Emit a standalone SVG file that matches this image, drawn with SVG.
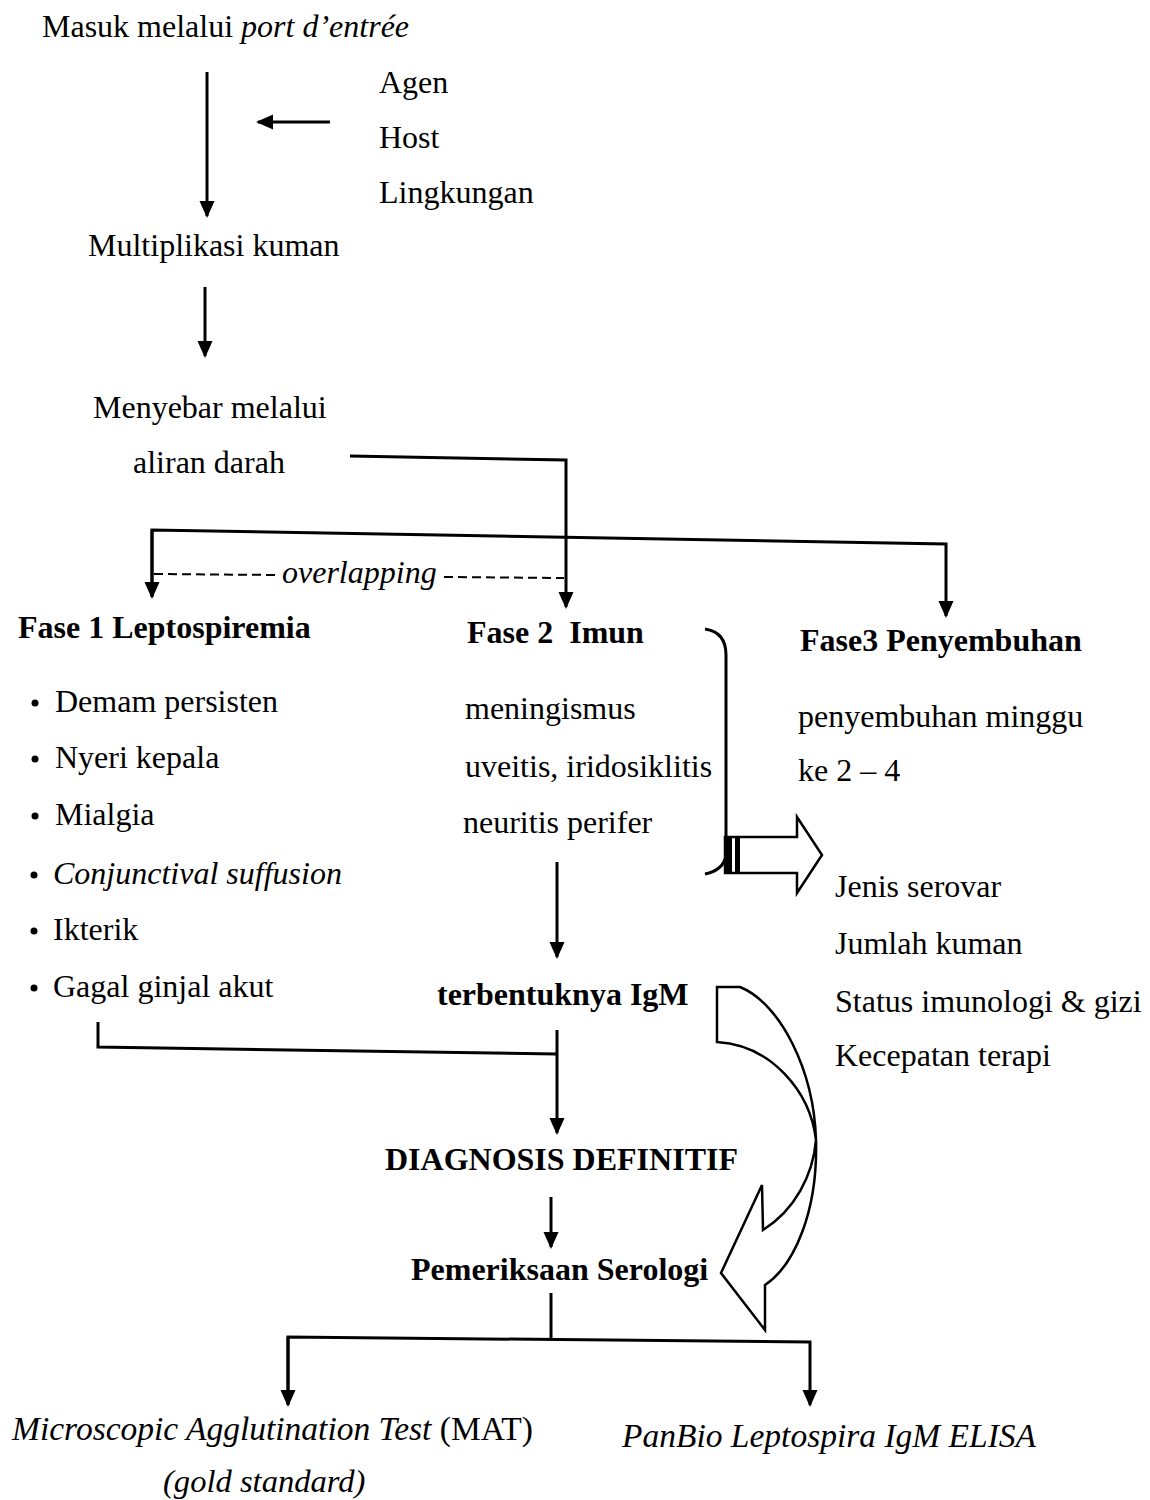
<svg xmlns="http://www.w3.org/2000/svg" width="1150" height="1500" viewBox="0 0 1150 1500">
<style>
text{font-family:"Liberation Serif","Times New Roman",serif;font-size:32px;fill:#000}
.b{font-weight:bold}
.i{font-style:italic}
.big{font-size:33.5px}
.ln{fill:none;stroke:#000;stroke-width:3}
.hol{fill:#fff;stroke:#000;stroke-width:2.5;stroke-linejoin:miter}
</style>
<defs>
<marker id="ah" markerUnits="userSpaceOnUse" markerWidth="18" markerHeight="18" refX="15" refY="7.5" orient="auto">
<path d="M0,0 L17,7.5 L0,15 Z" fill="#000"/>
</marker>
</defs>
<rect width="1150" height="1500" fill="#fff"/>

<g id="connectors">
<line class="ln" x1="207" y1="72" x2="207" y2="216" marker-end="url(#ah)"/>
<line class="ln" x1="330" y1="122" x2="258" y2="122" marker-end="url(#ah)"/>
<line class="ln" x1="205" y1="287" x2="205" y2="356" marker-end="url(#ah)"/>
<polyline class="ln" points="350,456 566,460 566,607" marker-end="url(#ah)"/>
<polyline class="ln" points="152,596 152,530 946,544 946,616" marker-end="url(#ah)"/>
<line x1="152" y1="530" x2="152" y2="597" class="ln" marker-end="url(#ah)"/>
<line x1="154" y1="574" x2="279" y2="575" stroke="#000" stroke-width="2" stroke-dasharray="9,5"/>
<line x1="444" y1="577" x2="564" y2="578" stroke="#000" stroke-width="2" stroke-dasharray="9,5"/>
<path class="ln" d="M705,629 Q726,632 726,655 L726,855 Q724,870 705,874"/>
<line class="ln" x1="557" y1="862" x2="557" y2="957" marker-end="url(#ah)"/>
<polyline class="ln" points="98,1022 98,1047 557,1054"/>
<line class="ln" x1="557" y1="1030" x2="557" y2="1133" marker-end="url(#ah)"/>
<line class="ln" x1="551" y1="1197" x2="551" y2="1247" marker-end="url(#ah)"/>
<line class="ln" x1="551" y1="1293" x2="551" y2="1338"/>
<polyline class="ln" points="288,1404 288,1337 810,1342 810,1405" marker-end="url(#ah)"/>
<line class="ln" x1="288" y1="1337" x2="288" y2="1405" marker-end="url(#ah)"/>
</g>

<g id="hollow-arrow-right">
<path class="hol" d="M725,837 L797,837 L797,817 L822,855 L797,893 L797,873 L725,873 Z"/>
<rect x="724" y="837" width="8" height="36" fill="#000"/>
<rect x="735" y="837" width="5" height="36" fill="#000"/>
</g>

<g id="curved-arrow">
<path class="hol" d="M717,987 L740,987 C780,1003 814,1070 816,1140 C818,1210 795,1265 765,1285 L765,1330 L721,1273 L762,1185 L763,1230 C795,1210 813,1175 816,1140 C810,1090 770,1045 717,1042 Z"/>
</g>

<g id="n-masuk"><text x="42" y="37">Masuk melalui <tspan class="i">port d’entrée</tspan></text></g>
<g id="n-factors">
<text x="379" y="93">Agen</text>
<text x="379" y="148">Host</text>
<text x="379" y="203">Lingkungan</text>
</g>
<g id="n-multi"><text x="88" y="256">Multiplikasi kuman</text></g>
<g id="n-menyebar">
<text x="93" y="418">Menyebar melalui</text>
<text x="133" y="473">aliran darah</text>
</g>
<g id="n-overlap"><text class="i" x="282" y="583">overlapping</text></g>
<g id="n-fase1">
<text class="b" x="18" y="638">Fase 1 Leptospiremia</text>
<circle cx="35" cy="703" r="3.5"/><text x="55" y="712">Demam persisten</text>
<circle cx="35" cy="759" r="3.5"/><text x="55" y="768">Nyeri kepala</text>
<circle cx="35" cy="816" r="3.5"/><text x="55" y="825">Mialgia</text>
<circle cx="34" cy="875" r="3.5"/><text class="i" x="53" y="884">Conjunctival suffusion</text>
<circle cx="34" cy="931" r="3.5"/><text x="53" y="940">Ikterik</text>
<circle cx="34" cy="988" r="3.5"/><text x="53" y="997">Gagal ginjal akut</text>
</g>
<g id="n-fase2">
<text class="b" x="467" y="643" xml:space="preserve">Fase 2  Imun</text>
<text x="465" y="719">meningismus</text>
<text x="465" y="777">uveitis, iridosiklitis</text>
<text x="463" y="833">neuritis perifer</text>
</g>
<g id="n-fase3">
<text class="b" x="800" y="651">Fase3 Penyembuhan</text>
<text x="798" y="727">penyembuhan minggu</text>
<text x="798" y="781">ke 2 – 4</text>
</g>
<g id="n-factors2">
<text x="835" y="897">Jenis serovar</text>
<text x="835" y="954">Jumlah kuman</text>
<text x="835" y="1012">Status imunologi &amp; gizi</text>
<text x="835" y="1066">Kecepatan terapi</text>
</g>
<g id="n-igm"><text class="b" x="437" y="1005">terbentuknya IgM</text></g>
<g id="n-diag"><text class="b" x="385" y="1170">DIAGNOSIS DEFINITIF</text></g>
<g id="n-sero"><text class="b" x="411" y="1280">Pemeriksaan Serologi</text></g>
<g id="n-mat">
<text class="big" x="12" y="1440"><tspan class="i">Microscopic Agglutination Test</tspan> (MAT)</text>
<text class="i" x="163" y="1492" style="font-size:32.6px">(gold standard)</text>
</g>
<g id="n-elisa"><text class="i big" x="622" y="1447">PanBio Leptospira IgM ELISA</text></g>
</svg>
